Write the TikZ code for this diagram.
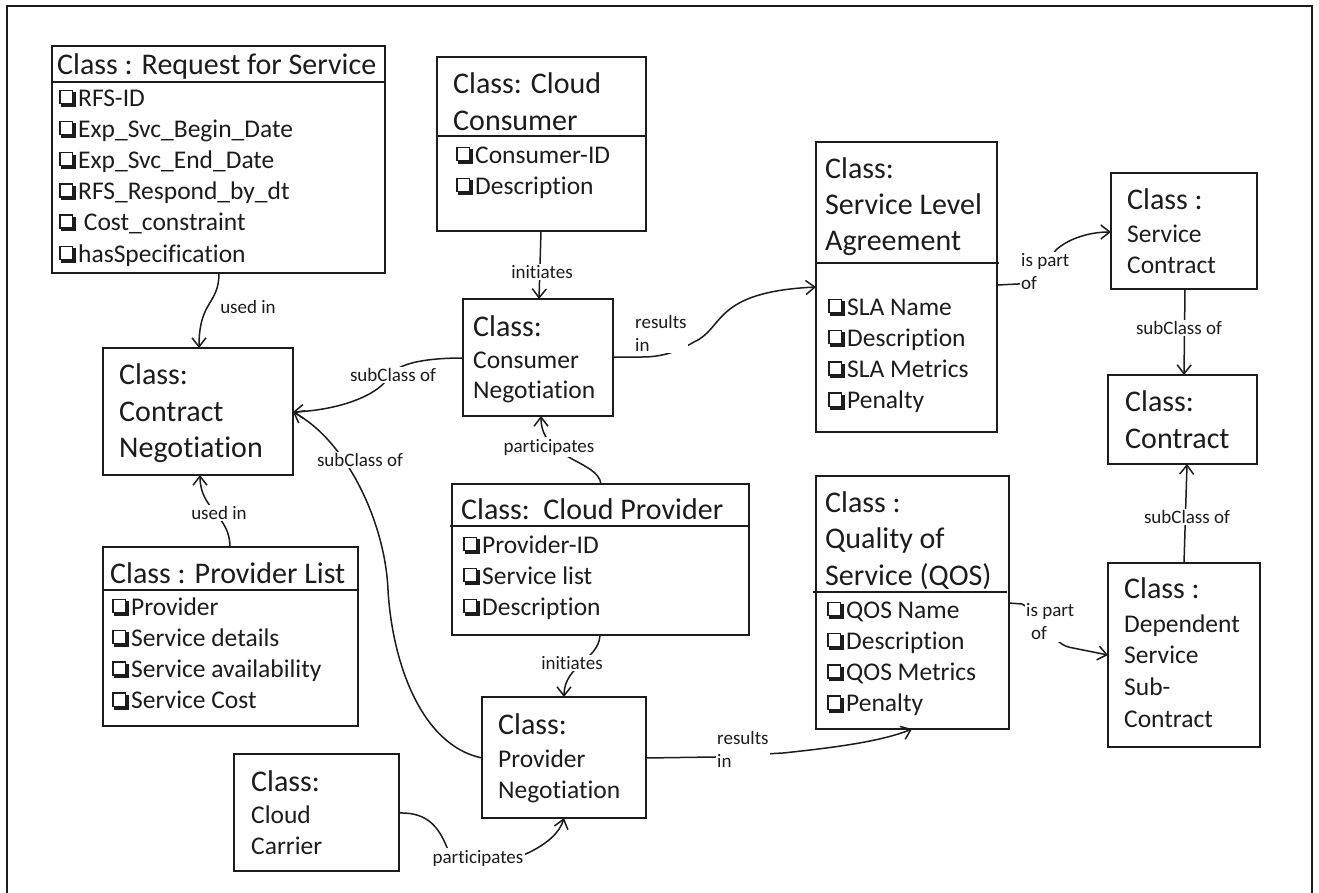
\documentclass[tikz,border=0pt]{standalone}
\usepackage{fontspec}
\setmainfont{Carlito}[Ligatures=NoCommon]
\usetikzlibrary{arrows.meta}
\definecolor{ink}{RGB}{28,28,28}
% shadowed check box, built from rules
\newcommand\cb{{\setlength{\unitlength}{1pt}\begin{picture}(20,16)
\put(1,2){\rule{14pt}{1.4pt}}
\put(1,15.1){\rule{14pt}{1.4pt}}
\put(1,2){\rule{1.4pt}{14.5pt}}
\put(13.6,2){\rule{1.4pt}{14.5pt}}
\put(3,-0.6){\rule{14.8pt}{3pt}}
\put(14.8,-0.6){\rule{3pt}{14.5pt}}
\end{picture}}}
\tikzset{
  cls/.style={draw=ink, line width=2pt, inner sep=0pt, outer sep=0pt, anchor=north west},
  sep/.style={draw=ink, line width=1.6pt},
  ttl/.style={anchor=base west, inner sep=0pt, font=\fontsize{30}{36}\selectfont},
  itm/.style={anchor=base west, inner sep=0pt, font=\fontsize{25.5}{31}\selectfont},
  lbl/.style={fill=white, inner sep=1.5pt, font=\fontsize{19}{23}\selectfont},
  rel/.style={draw=ink, line width=1.5pt},
  arr/.style={-{Straight Barb[length=9pt,width=14pt]}},
}
\begin{document}
\begin{tikzpicture}[x=1pt,y=-1pt, every node/.append style={text=ink}]
\useasboundingbox (0,0) rectangle (1319,892);
\fill[white] (0,0) rectangle (1319,892);
% outer frame
\draw[ink, line width=2pt] (7,900) -- (7,6) -- (1312,6) -- (1312,900);

% class boxes
\node[cls, minimum width=333pt, minimum height=227pt] (rfs)   at (52,46)   {};
\node[cls, minimum width=209pt, minimum height=174pt] (ccons) at (437,57)  {};
\node[cls, minimum width=181pt, minimum height=290pt] (sla)   at (816,142) {};
\node[cls, minimum width=146pt, minimum height=116pt] (sc)    at (1111,173) {};
\node[cls, minimum width=149pt, minimum height=89pt]  (ctr)   at (1108,375) {};
\node[cls, minimum width=190pt, minimum height=127pt] (cn)    at (103,348) {};
\node[cls, minimum width=150pt, minimum height=117pt] (cneg)  at (463,299) {};
\node[cls, minimum width=297pt, minimum height=151pt] (cp)    at (452,484) {};
\node[cls, minimum width=255pt, minimum height=179pt] (pl)    at (103,547) {};
\node[cls, minimum width=165pt, minimum height=117pt] (car)   at (234,754) {};
\node[cls, minimum width=164pt, minimum height=121pt] (pneg)  at (482,697) {};
\node[cls, minimum width=193pt, minimum height=253pt] (qos)   at (816,476) {};
\node[cls, minimum width=152pt, minimum height=184pt] (dep)   at (1108,563) {};

% Request for Service
\node[ttl] (rfs-t) at (57,74) {Class : Request for Service};
\draw[sep] (rfs.west |- 0,82) -- (rfs.east |- 0,82);
\foreach \itm [count=\i] in {RFS-ID, Exp\_Svc\_Begin\_Date, Exp\_Svc\_End\_Date, RFS\_Respond\_by\_dt, {\ Cost\_constraint}, hasSpecification}
  \node[itm] (rfs-\i) at (58,{106+31.2*(\i-1)}) {\cb\itm};

% Cloud Consumer
\node[ttl] (cc-t1) at (453,93) {Class: Cloud};
\node[ttl] (cc-t2) at (453,130) {Consumer};
\draw[sep] (ccons.west |- 0,136) -- (ccons.east |- 0,136);
\node[itm] (cc-1) at (455,163) {\cb Consumer-ID};
\node[itm] (cc-2) at (455,194) {\cb Description};

% Service Level Agreement
\node[ttl] (sla-t1) at (825,178) {Class:};
\node[ttl] (sla-t2) at (825,214) {Service Level};
\node[ttl] (sla-t3) at (825,250) {Agreement};
\draw[sep] (sla.west |- 0,263) -- (999,263);
\foreach \itm [count=\i] in {SLA Name, Description, SLA Metrics, Penalty}
  \node[itm] (sla-\i) at (827,{315+31.3*(\i-1)}) {\cb\itm};

% Service Contract
\node[ttl] (sc-t1) at (1127,209) {Class :};
\node[itm] (sc-t2) at (1127,242) {Service};
\node[itm] (sc-t3) at (1127,273) {Contract};

% Contract
\node[ttl] (ctr-t1) at (1125,411) {Class:};
\node[ttl] (ctr-t2) at (1125,448) {Contract};

% Contract Negotiation
\node[ttl] (cn-t1) at (119,384) {Class:};
\node[ttl] (cn-t2) at (119,421) {Contract};
\node[ttl] (cn-t3) at (119,457) {Negotiation};

% Consumer Negotiation
\node[ttl] (cneg-t1) at (473,336) {Class:};
\node[itm] (cneg-t2) at (473,368) {Consumer};
\node[itm] (cneg-t3) at (473,398) {Negotiation};

% Cloud Provider
\node[ttl] (cp-t) at (461,519) {Class:\ \ Cloud Provider};
\draw[sep] (450,526) -- (cp.east |- 0,526);
\foreach \itm [count=\i] in {Provider-ID, Service list, Description}
  \node[itm] (cp-\i) at (462,{553+31*(\i-1)}) {\cb\itm};

% Provider List
\node[ttl] (pl-t) at (110,583) {Class : Provider List};
\draw[sep] (pl.west |- 0,590) -- (pl.east |- 0,590);
\foreach \itm [count=\i] in {Provider, Service details, Service availability, Service Cost}
  \node[itm] (pl-\i) at (111,{615+31.3*(\i-1)}) {\cb\itm};

% Cloud Carrier
\node[ttl] (car-t1) at (251,791) {Class:};
\node[itm] (car-t2) at (251,823) {Cloud};
\node[itm] (car-t3) at (251,854) {Carrier};

% Provider Negotiation
\node[ttl] (pneg-t1) at (498,734) {Class:};
\node[itm] (pneg-t2) at (498,767) {Provider};
\node[itm] (pneg-t3) at (498,798) {Negotiation};

% Quality of Service
\node[ttl] (qos-t1) at (825,512) {Class :};
\node[ttl] (qos-t2) at (825,548) {Quality of};
\node[ttl] (qos-t3) at (825,585) {Service (QOS)};
\draw[sep] (813,592) -- (1007,592);
\foreach \itm [count=\i] in {QOS Name, Description, QOS Metrics, Penalty}
  \node[itm] (qos-\i) at (826,{618+31.3*(\i-1)}) {\cb\itm};

% Dependent Service Sub-Contract
\node[ttl] (dep-t1) at (1124,598) {Class :};
\node[itm] (dep-t2) at (1124,632) {Dependent};
\node[itm] (dep-t3) at (1124,663) {Service};
\node[itm] (dep-t4) at (1124,695) {Sub-};
\node[itm] (dep-t5) at (1124,727) {Contract};

% relations
\draw[rel,arr] (rfs.south -| 219,0) .. controls (219,305) and (199,300) .. (cn.north -| 199,0);
\draw[rel,arr] (pl.north -| 230,0) .. controls (230,515) and (200,510) .. (cn.south -| 200,0);
\draw[rel,arr] (ccons.south -| 541,0) -- (cneg.north -| 539,0);
\draw[rel,arr] (cneg.west |- 0,358) .. controls (430,358) and (400,362) .. (390,375) .. controls (380,395) and (340,410) .. (cn.east |- 0,412);
\draw[rel,arr] (pneg.west |- 0,758) .. controls (420,745) and (392,660) .. (388,590) .. controls (385,520) and (345,440) .. (cn.east |- 0,412);
\draw[rel,arr] (cp.north -| 601,0) .. controls (598,460) and (541,460) .. (cneg.south -| 541,0);
\draw[rel,arr] (cneg.east |- 0,357) -- (642,357) .. controls (665,357) and (680,350) .. (694,342) .. controls (725,328) and (712,292) .. (sla.west |- 0,287);
\draw[rel,arr] (sla.east |- 0,285) -- (1018,284) .. controls (1035,283) and (1045,262) .. (1057,249) .. controls (1070,238) and (1090,232) .. (sc.west |- 0,232);
\draw[rel,arr] (sc.south -| 1185,0) -- (ctr.north -| 1184,0);
\draw[rel,arr] (dep.north -| 1184,0) -- (ctr.south -| 1187,0);
\draw[rel,arr] (qos.east |- 0,603) -- (1022,604) .. controls (1050,620) and (1050,645) .. (1073,648) -- (dep.west |- 0,655);
\draw[rel,arr] (cp.south -| 600,0) .. controls (599,660) and (564,665) .. (pneg.north -| 564,0);
\draw[rel,arr] (pneg.east |- 0,758) -- (713,757) .. controls (740,757) and (760,754) .. (783,753) .. controls (830,748) and (880,742) .. (qos.south -| 912,0);
\draw[rel,arr] (car.east |- 0,813) .. controls (430,812) and (440,830) .. (448,850) .. controls (470,870) and (510,862) .. (530,852) .. controls (548,843) and (560,832) .. (pneg.south -| 564,0);

% relation labels
\node[lbl] (l-used1) at (248,307) {used in};
\node[lbl] (l-used2) at (219,513) {used in};
\node[lbl] (l-init1) at (542,272) {initiates};
\node[lbl] (l-sub1) at (393,375) {subClass of};
\node[lbl] (l-sub2) at (360,460) {subClass of};
\node[lbl] (l-part1) at (549,447) {participates};
\node[lbl, align=left, anchor=west] (l-res1) at (633.5,333) {results\\in};
\node[lbl, align=left, anchor=west] (l-ipo1) at (1019.5,272) {is part\\of};
\node[lbl] (l-sub3) at (1179,328) {subClass of};
\node[lbl] (l-sub4) at (1187,517) {subClass of};
\node[lbl, align=left, anchor=west] (l-ipo2) at (1024.5,622) {is part\\\hspace*{5pt}of};
\node[lbl] (l-init2) at (572,663) {initiates};
\node[lbl, align=left, anchor=west] (l-res2) at (715.5,749.5) {results\\in};
\node[lbl] (l-part2) at (478,858) {participates};
\end{tikzpicture}
\end{document}
